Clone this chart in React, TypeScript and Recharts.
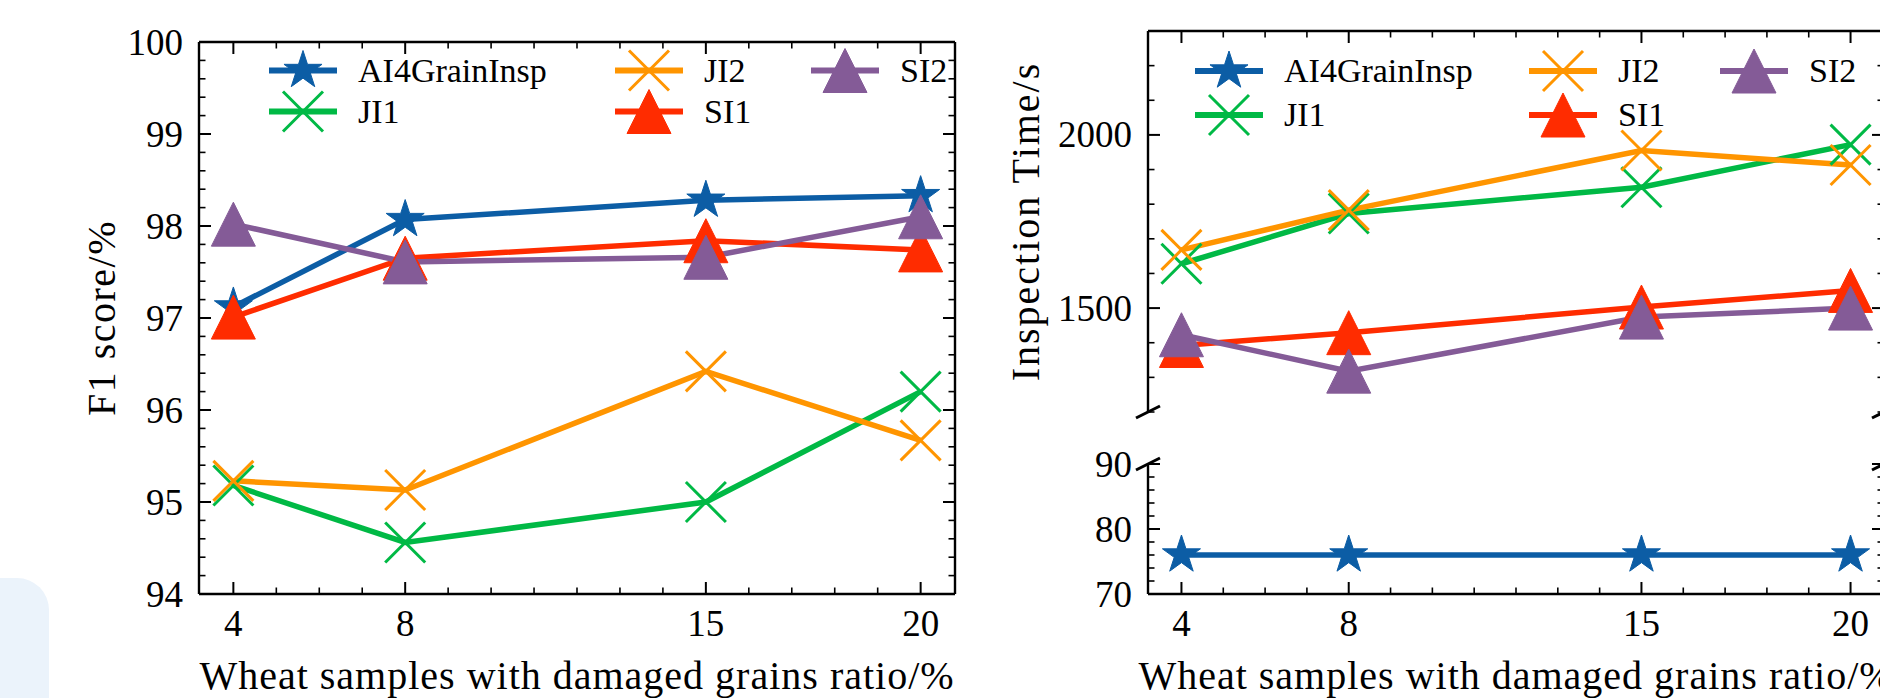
import { LineChart, Line, XAxis, YAxis, Legend } from "recharts";

// damaged grains ratio (%)
const ratios = [4, 8, 15, 20];

// F1 score (%)
const f1Ai4 = [97.12, 98.07, 98.28, 98.33];
const f1Ji1 = [95.18, 94.56, 95.0, 96.2];
const f1Ji2 = [95.23, 95.13, 96.42, 95.67];
const f1Si1 = [97.01, 97.65, 97.84, 97.74];
const f1Si2 = [98.02, 97.61, 97.66, 98.1];

// inspection time (s)
const timeAi4 = [76, 76, 76, 76];
const timeJi1 = [1628, 1773, 1849, 1972];
const timeJi2 = [1668, 1783, 1955, 1913];
const timeSi1 = [1392, 1429, 1503, 1551];
const timeSi2 = [1423, 1318, 1474, 1500];

const seriesNames = ["AI4GrainInsp", "JI1", "JI2", "SI1", "SI2"];
const seriesKeys = ["ai4", "ji1", "ji2", "si1", "si2"];
const seriesColors = ["#0C5DA5", "#00B945", "#FF9500", "#FF2C00", "#845B97"];
const seriesMarkers = ["star", "x", "x", "tri", "tri"];

// ticks
const xMajor = [4, 8, 15, 20];
const f1Major = [94, 95, 96, 97, 98, 99, 100];
const timeUpperMajor = [1500, 2000];
const timeLowerMajor = [70, 80, 90];

const FONT = "'Liberation Serif', 'Times New Roman', serif";

function range(start: number, stop: number, step: number) {
  const out: number[] = [];
  for (let v = start; v <= stop + 1e-9; v += step) out.push(Math.round(v * 100) / 100);
  return out;
}

const xTicks = range(4, 20, 1);
const f1Ticks = range(94, 100, 0.2);
const timeUpperTicks = range(1200, 2300, 100);
const timeLowerTicks = range(70, 90, 2);

const f1Rows = ratios.map((r, i) => ({
  x: r,
  ai4: f1Ai4[i],
  ji1: f1Ji1[i],
  ji2: f1Ji2[i],
  si1: f1Si1[i],
  si2: f1Si2[i],
}));

const timeRows = ratios.map((r, i) => ({
  x: r,
  ai4: timeAi4[i],
  ji1: timeJi1[i],
  ji2: timeJi2[i],
  si1: timeSi1[i],
  si2: timeSi2[i],
}));

function Marker({ kind, cx, cy, color }: { kind: string; cx: number; cy: number; color: string }) {
  if (kind === "star") {
    const R = 20;
    const pts: string[] = [];
    for (let k = 0; k < 10; k++) {
      const a = ((-90 + k * 36) * Math.PI) / 180;
      const r = k % 2 === 0 ? R : R * 0.382;
      pts.push(`${cx + r * Math.cos(a)},${cy + r * Math.sin(a)}`);
    }
    return <polygon points={pts.join(" ")} fill={color} stroke={color} strokeWidth={1} />;
  }
  if (kind === "x") {
    const h = 20;
    return (
      <g stroke={color} strokeWidth={3}>
        <line x1={cx - h} y1={cy - h} x2={cx + h} y2={cy + h} />
        <line x1={cx - h} y1={cy + h} x2={cx + h} y2={cy - h} />
      </g>
    );
  }
  const h = 22;
  return <polygon points={`${cx},${cy - h} ${cx - h},${cy + h} ${cx + h},${cy + h}`} fill={color} stroke={color} strokeWidth={1} />;
}

type Side = "bottom" | "top" | "left" | "right";

function makeTick(side: Side, major: number[], labels = false, breakAt?: number) {
  return function AxisTick(props: any) {
    const { x, y, payload, index } = props;
    const v = payload.value as number;
    const isMajor = major.some((m) => Math.abs(m - v) < 1e-6);
    const len = isMajor ? 12 : 6.5;
    let seg = { x1: x, y1: y, x2: x, y2: y - len };
    if (side === "top") seg = { x1: x, y1: y, x2: x, y2: y + len };
    if (side === "left") seg = { x1: x, y1: y, x2: x + len, y2: y };
    if (side === "right") seg = { x1: x, y1: y, x2: x - len, y2: y };
    const isBreak = breakAt !== undefined && Math.abs(v - breakAt) < 1e-6;
    return (
      <g key={`${side}-${index}`}>
        <line {...seg} stroke="#000" strokeWidth={isMajor ? 2 : 1.6} />
        {labels && isMajor && side === "bottom" ? (
          <text x={x} y={y + 42} textAnchor="middle" fontFamily={FONT} fontSize={37} fill="#000">
            {v}
          </text>
        ) : null}
        {labels && isMajor && side === "left" ? (
          <text x={x - 16} y={y + 12.5} textAnchor="end" fontFamily={FONT} fontSize={37} fill="#000">
            {v}
          </text>
        ) : null}
        {isBreak ? <line x1={x - 12} y1={y + 6} x2={x + 12} y2={y - 6} stroke="#000" strokeWidth={3} /> : null}
      </g>
    );
  };
}

function LegendBox({ cols, rowH }: { cols: number[]; rowH: number }) {
  return (
    <div
      style={{
        display: "grid",
        gridTemplateColumns: cols.map((c) => `${c}px`).join(" "),
        gridTemplateRows: `${rowH}px ${rowH}px`,
        gridAutoFlow: "column",
      }}
    >
      {seriesNames.map((name, i) => (
        <div key={name} style={{ display: "flex", alignItems: "center" }}>
          <svg width={68} height={rowH} style={{ overflow: "visible" }}>
            <line x1={0} x2={68} y1={rowH / 2} y2={rowH / 2} stroke={seriesColors[i]} strokeWidth={6} />
            <Marker kind={seriesMarkers[i]} cx={34} cy={rowH / 2} color={seriesColors[i]} />
          </svg>
          <span style={{ marginLeft: 21, fontFamily: FONT, fontSize: 34, lineHeight: 1, color: "#000", whiteSpace: "nowrap" }}>
            {name}
          </span>
        </div>
      ))}
    </div>
  );
}

const axisLine = { stroke: "#000", strokeWidth: 2.4 };
const labelStyle = { fill: "#000", fontSize: 40, fontFamily: FONT };

function renderLines() {
  return seriesKeys.map((k, i) => (
    <Line
      key={k}
      type="linear"
      dataKey={k}
      stroke={seriesColors[i]}
      strokeWidth={5.5}
      activeDot={false}
      isAnimationActive={false}
      dot={(p: any) => (
        <Marker key={`${k}-${p.index}`} kind={seriesMarkers[i]} cx={p.cx} cy={p.cy} color={seriesColors[i]} />
      )}
    />
  ));
}

function axisCommon() {
  return {
    type: "number" as const,
    allowDataOverflow: true,
    interval: 0 as const,
    tickLine: false,
    tickSize: 0,
    tickMargin: 0,
    axisLine,
  };
}

export default function App() {
  return (
    <div style={{ position: "absolute", left: 0, top: 0, width: 1880, height: 698, overflow: "hidden", background: "#fff" }}>
      <div style={{ position: "absolute", left: -40, top: 578, width: 89, height: 200, borderRadius: 32, background: "#EBF3FB" }} />

      {/* left: F1 score */}
      <div style={{ position: "absolute", left: 0, top: 0 }}>
        <LineChart width={990} height={698} data={f1Rows} margin={{ top: 41, right: 34, bottom: 0, left: 0 }}>
          <XAxis
            {...axisCommon()}
            dataKey="x"
            domain={[3.2, 20.8]}
            ticks={xTicks}
            height={104}
            tick={makeTick("bottom", xMajor, true)}
            label={{ value: "Wheat samples with damaged grains ratio/%", position: "insideBottom", offset: 9, ...labelStyle, style: { letterSpacing: 1 } }}
          />
          <XAxis {...axisCommon()} xAxisId="top" orientation="top" dataKey="x" domain={[3.2, 20.8]} ticks={xTicks} height={1} tick={makeTick("top", xMajor)} />
          <YAxis
            {...axisCommon()}
            domain={[94, 100]}
            ticks={f1Ticks}
            width={199}
            tick={makeTick("left", f1Major, true)}
            label={{ value: "F1 score/%", angle: -90, position: "insideLeft", offset: 101, ...labelStyle, style: { textAnchor: "middle", letterSpacing: 1.5 } }}
          />
          <YAxis {...axisCommon()} yAxisId="right" orientation="right" domain={[94, 100]} ticks={f1Ticks} width={1} tick={makeTick("right", f1Major)} />
          <Legend
            layout="horizontal"
            verticalAlign="middle"
            align="center"
            wrapperStyle={{ left: 269, top: 50, width: "auto", height: "auto" }}
            content={() => <LegendBox cols={[346, 196, 150]} rowH={41} />}
          />
          {renderLines()}
        </LineChart>
      </div>

      {/* right upper: inspection time, slow methods */}
      <div style={{ position: "absolute", left: 980, top: 0 }}>
        <LineChart width={920} height={430} data={timeRows} margin={{ top: 30, right: 15, bottom: 18, left: 0 }}>
          <XAxis {...axisCommon()} orientation="top" dataKey="x" domain={[3.2, 20.8]} ticks={xTicks} height={1} tick={makeTick("top", xMajor)} />
          <YAxis
            {...axisCommon()}
            domain={[1200, 2300]}
            ticks={timeUpperTicks}
            width={168}
            tick={makeTick("left", timeUpperMajor, true, 1200)}
            label={{ value: "Inspection Time/s", angle: -90, position: "insideLeft", offset: 45, ...labelStyle, style: { textAnchor: "middle", letterSpacing: 2 } }}
          />
          <YAxis {...axisCommon()} yAxisId="right" orientation="right" domain={[1200, 2300]} ticks={timeUpperTicks} width={1} tick={makeTick("right", timeUpperMajor, false, 1200)} />
          <Legend
            layout="horizontal"
            verticalAlign="middle"
            align="center"
            wrapperStyle={{ left: 215, top: 49, width: "auto", height: "auto" }}
            content={() => <LegendBox cols={[334, 191, 150]} rowH={44} />}
          />
          {renderLines()}
        </LineChart>
      </div>

      {/* right lower: inspection time, AI4GrainInsp */}
      <div style={{ position: "absolute", left: 980, top: 440 }}>
        <LineChart width={920} height={258} data={timeRows} margin={{ top: 24, right: 15, bottom: 0, left: 0 }}>
          <XAxis
            {...axisCommon()}
            dataKey="x"
            domain={[3.2, 20.8]}
            ticks={xTicks}
            height={104}
            tick={makeTick("bottom", xMajor, true)}
            label={{ value: "Wheat samples with damaged grains ratio/%", position: "insideBottom", offset: 9, ...labelStyle, style: { letterSpacing: 1 } }}
          />
          <YAxis {...axisCommon()} domain={[70, 90]} ticks={timeLowerTicks} width={168} tick={makeTick("left", timeLowerMajor, true, 90)} />
          <YAxis {...axisCommon()} yAxisId="right" orientation="right" domain={[70, 90]} ticks={timeLowerTicks} width={1} tick={makeTick("right", timeLowerMajor, false, 90)} />
          <Line
            type="linear"
            dataKey="ai4"
            stroke={seriesColors[0]}
            strokeWidth={5.5}
            activeDot={false}
            isAnimationActive={false}
            dot={(p: any) => <Marker key={`low-${p.index}`} kind="star" cx={p.cx} cy={p.cy} color={seriesColors[0]} />}
          />
        </LineChart>
      </div>
    </div>
  );
}
